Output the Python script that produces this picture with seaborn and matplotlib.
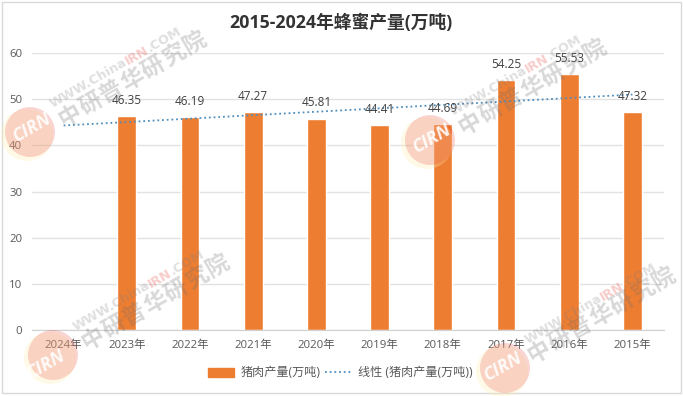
import numpy as np
import pandas as pd
import matplotlib.pyplot as plt
from matplotlib.lines import Line2D
from matplotlib.patches import Circle, Patch, Rectangle
import seaborn as sns

years = ['2024年', '2023年', '2022年', '2021年', '2020年', '2019年', '2018年', '2017年', '2016年', '2015年']
output = [np.nan, 46.35, 46.19, 47.27, 45.81, 44.41, 44.69, 54.25, 55.53, 47.32]
# trend line, first and last category
trend_years = ['2024年', '2015年']
trend_values = [44.3, 51.0]
ticks = [0, 10, 20, 30, 40, 50, 60]

title = '2015-2024年蜂蜜产量(万吨)'
bar_name = '猪肉产量(万吨)'
trend_name = '线性 (猪肉产量(万吨))'

sns.set_style('white')
plt.rcParams['font.family'] = ['Open Sans', 'Noto Sans CJK SC', 'DejaVu Sans']

df = pd.DataFrame({'year': years, 'output': output})
trend = pd.DataFrame({'year': trend_years, 'value': trend_values})

fig = plt.figure(figsize=(6.83, 3.96), dpi=100)
ax = fig.add_axes([32 / 683, 1 - 330 / 396, 632 / 683, 277 / 396])

dots = (0, (1, 1.6))
sns.barplot(data=df, x='year', y='output', color='#ED7D31', saturation=1, width=0.3, ax=ax, zorder=2)
sns.lineplot(data=trend, x='year', y='value', color='#4F8FBF', linestyle=dots, linewidth=1.3, ax=ax, zorder=3)

ax.set_xlim(-0.5, 9.5)
ax.set_ylim(0, 60)
ax.set_yticks(ticks)
ax.set_xlabel('')
ax.set_ylabel('')
ax.grid(axis='y', color='#E2E2E2', linewidth=1)
ax.set_axisbelow(True)
sns.despine(ax=ax, left=True, top=True, right=True)
ax.spines['bottom'].set_color('#D0D0D0')
ax.tick_params(axis='both', length=0, labelsize=8.2, labelcolor='#595959')
ax.tick_params(axis='x', pad=7)
ax.tick_params(axis='y', pad=7)

for i, v in enumerate(output):
    if not np.isnan(v):
        ax.annotate(f'{v:.2f}', (i, v), xytext=(0, 6.5), textcoords='offset points',
                    ha='center', va='bottom', fontsize=8.5, color='#404040', zorder=5)

fig.text(341 / 683, 1 - 23 / 396, title, ha='center', va='center', fontsize=12.8,
         fontweight='bold', color='#333333')

handles = [Patch(color='#ED7D31'), Line2D([], [], color='#4F8FBF', linestyle=dots, linewidth=1.3)]
fig.legend(handles, [bar_name, trend_name], loc='center', bbox_to_anchor=(340 / 683, 1 - 373 / 396),
           ncol=2, frameon=False, fontsize=8.7, labelcolor='#595959', handlelength=2.2,
           handleheight=0.7, columnspacing=0.4, handletextpad=0.5)

# chart border
fig.add_artist(Rectangle((2 / 683, 1 - 393 / 396), 679 / 683, 391 / 396, transform=fig.transFigure,
                         fill=False, edgecolor='#D9D9D9', linewidth=1))

# watermarks, logo circle plus two rotated lines
# circle x, circle y, logo text x, logo text y, company name shift
renderer = fig.canvas.get_renderer()
angle = np.radians(30)
marks = [(30, 132, 32, 127, 103), (53, 355, 46, 364, 103), (430, 140, 432, 138, 103), (505, 368, 503, 366, 97)]
for cx, cy, lx, ly, name_dx in marks:
    fig.add_artist(Circle((cx - 3, 396 - cy - 3), 26, transform=None, color='#FFF0B0', alpha=0.3, linewidth=0, zorder=6))
    fig.add_artist(Circle((cx, 396 - cy), 25, transform=None, color='#E5342B', alpha=0.2, linewidth=0, zorder=6))
    fig.text(lx / 683, 1 - ly / 396, 'CIRN', rotation=30, ha='center', va='center', fontsize=13,
             fontweight='bold', style='italic', color='white', alpha=0.9, zorder=7)
    # url line, IRN part in red
    x = cx + 21
    y = cy - 27
    for part, col in [('WWW.China', '#808080'), ('IRN', '#E5342B'), ('.COM', '#808080')]:
        t = fig.text(x / 683, 1 - y / 396, part, rotation=0, rotation_mode='anchor', ha='left', va='center',
                     fontsize=9.2, fontweight='bold', family='DejaVu Sans', color=col, alpha=0.25, zorder=7)
        w = t.get_window_extent(renderer).width
        t.set_rotation(30)
        x += w * np.cos(angle)
        y -= w * np.sin(angle)
    # company name, one character at a time for the wide spacing
    for k, ch in enumerate('中研普华研究院'):
        d = 24 * (k - 3)
        fig.text((cx + name_dx + d * np.cos(angle)) / 683, 1 - (cy - 52 - d * np.sin(angle)) / 396, ch, rotation=30,
                 ha='center', va='center', fontsize=16.5, fontweight='bold', color='#707070', alpha=0.27, zorder=7)

plt.savefig('out.png', dpi=100)
